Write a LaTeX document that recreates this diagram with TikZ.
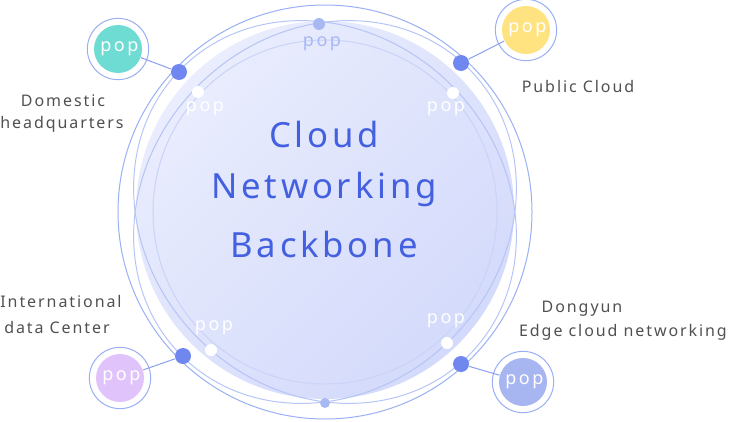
\documentclass[tikz,border=0pt]{standalone}
\usepackage{fontspec}
\setmainfont{Noto Sans}
\newfontfamily\titlefont[LetterSpace=11]{Noto Sans}
\newfontfamily\labelfont[LetterSpace=12]{Noto Sans}
\newfontfamily\popfont[LetterSpace=14]{Noto Sans}
\definecolor{ringblue}{HTML}{9AAFF4}
\definecolor{lineblue}{HTML}{B6C4F6}
\definecolor{faintblue}{HTML}{CAD3F8}
\definecolor{disktop}{HTML}{EAEDFD}
\definecolor{diskbot}{HTML}{D3DAFB}
\definecolor{dotblue}{HTML}{6F87EE}
\definecolor{topdot}{HTML}{A8B8F3}
\definecolor{titleblue}{HTML}{4360E0}
\definecolor{labelgray}{HTML}{505050}
\definecolor{popteal}{HTML}{6FDCD4}
\definecolor{popyellow}{HTML}{FFE380}
\definecolor{poppurple}{HTML}{E1C3FB}
\definecolor{popblue}{HTML}{A7B5F1}
\tikzset{
    every path/.style={line width=0.75pt},
    ring/.style={circle, draw=ringblue, fill=white, minimum size=46pt, inner sep=0pt},
    pop/.style={circle, minimum size=36pt, inner sep=0pt, text=white, font=\popfont\fontsize{13.5}{14}\selectfont},
    hub/.style={circle, fill=dotblue, minimum size=12pt, inner sep=0pt},
    port/.style={circle, fill=white, minimum size=9pt, inner sep=0pt},
    tag/.style={text=white, inner sep=0pt, font=\popfont\fontsize{13.5}{14}\selectfont},
    lbl/.style={text=labelgray, inner sep=0pt, font=\labelfont\fontsize{12}{13}\selectfont},
    title/.style={text=titleblue, inner sep=0pt, font=\titlefont\fontsize{26}{28}\selectfont},
    link/.style={draw=dotblue!80}
}

\begin{document}
\begin{tikzpicture}[x=0.75pt, y=-0.75pt]
\useasboundingbox (0,0) rectangle (730,421);

% rings round the backbone
\draw[ringblue] (325,212) circle [radius=207];
\shade[top color=disktop, bottom color=diskbot, shading angle=45] (325,210) circle [radius=189];
\draw[lineblue] (325,212) ellipse [x radius=203, y radius=179, rotate=45];
\draw[lineblue] (325,212) ellipse [x radius=203, y radius=179, rotate=-45];
\draw[faintblue] (325,212) circle [radius=172];

% title
\node[title] at (324,134) (t1) {Cloud};
\node[title] at (324,189) (t2) {Networking};
\node[title] at (324,244) (t3) {Backbone};

% top and bottom pop
\node[circle, fill=topdot, minimum size=9pt, inner sep=0pt] at (319,24) (top) {};
\node[tag, text=topdot] at (322,44) (toptag) {pop};
\node[circle, fill=topdot, minimum size=7.5pt, inner sep=0pt] at (325,403) (bot) {};

% inner pops
\node[port] at (198,92) (w1) {};
\node[tag] at (205,109) (w1t) {pop};
\node[port] at (453,93) (w2) {};
\node[tag] at (446,109) (w2t) {pop};
\node[port] at (211,350) (w3) {};
\node[tag] at (214,328) (w3t) {pop};
\node[port] at (447,343) (w4) {};
\node[tag] at (446,321) (w4t) {pop};

% domestic headquarters
\node[ring] at (118,49) (r1) {};
\node[pop, fill=popteal] at (118,49) (p1) {\hspace{2pt}pop};
\node[hub] at (179,72) (h1) {};
\draw[link] (p1) -- (h1);
\node[lbl] at (63,101) (l1a) {Domestic};
\node[lbl] at (62,124) (l1b) {headquarters};

% public cloud
\node[ring] at (526,30) (r2) {};
\node[pop, fill=popyellow] at (526,30) (p2) {\hspace{2pt}pop};
\node[hub] at (461,63) (h2) {};
\draw[link] (p2) -- (h2);
\node[lbl] at (578,86) (l2) {Public Cloud};

% international data center
\node[ring] at (120,378) (r3) {};
\node[pop, fill=poppurple] at (120,378) (p3) {\hspace{2pt}pop};
\node[hub] at (183,356) (h3) {};
\draw[link] (p3) -- (h3);
\node[lbl] at (61,301) (l3a) {International};
\node[lbl] at (57,327) (l3b) {data Center};

% dongyun edge cloud
\node[ring] at (523,382) (r4) {};
\node[pop, fill=popblue] at (523,382) (p4) {\hspace{2pt}pop};
\node[hub] at (461,364) (h4) {};
\draw[link] (p4) -- (h4);
\node[lbl] at (582,309) (l4a) {Dongyun};
\node[lbl] at (623,332) (l4b) {Edge cloud networking};
\end{tikzpicture}
\end{document}
